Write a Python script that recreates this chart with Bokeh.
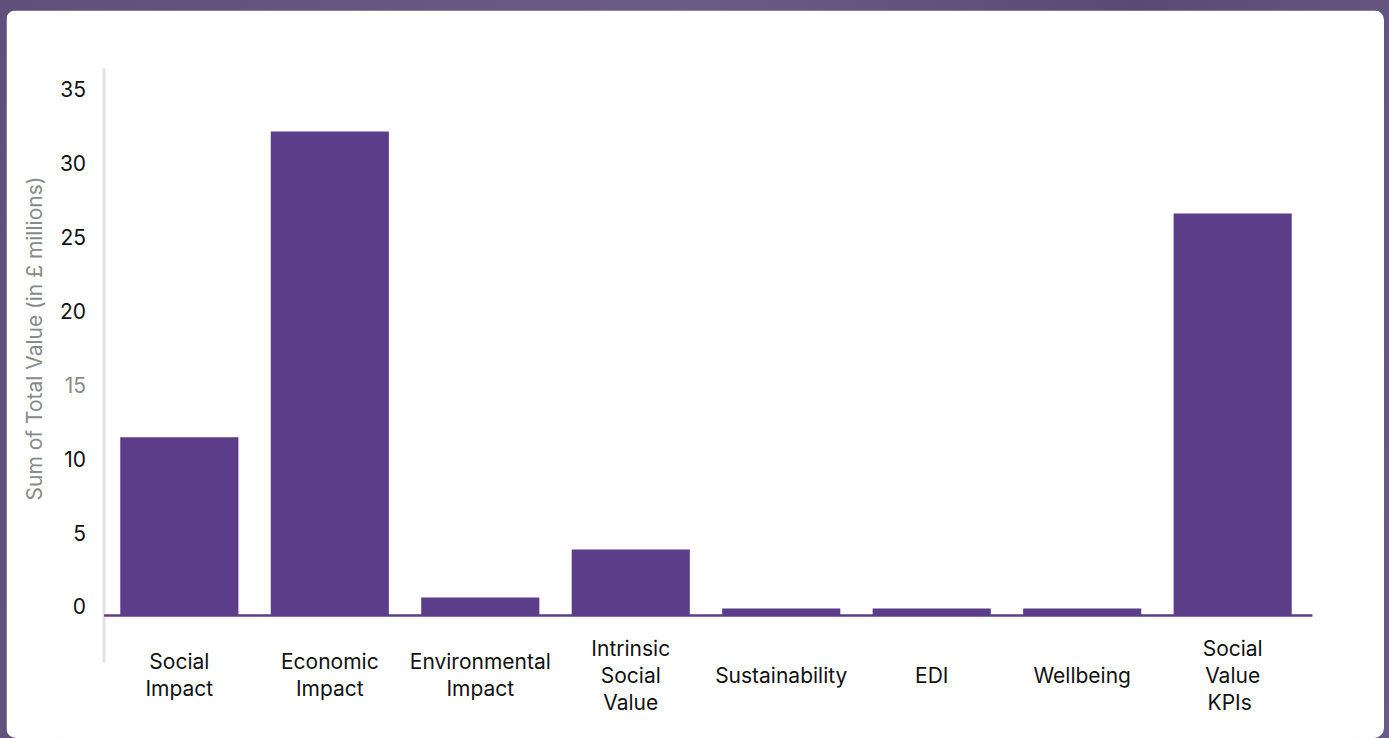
from bokeh.plotting import figure
from bokeh.models import ColumnDataSource, Title, FactorRange
from bokeh.layouts import column
from bokeh.core.properties import value
from bokeh.embed import file_html
from bokeh.resources import INLINE

categories = ["Social Impact", "Economic Impact", "Environmental Impact",
              "Intrinsic Social Value", "Sustainability", "EDI", "Wellbeing",
              "Social Value KPIs"]
category_labels = ["Social\nImpact", "Economic\nImpact", "Environmental\nImpact",
                   "Intrinsic\nSocial\nValue", "Sustainability", "EDI", "Wellbeing",
                   "Social\nValue\n KPIs"]
values = [12.05, 32.7, 1.22, 4.46, 0.47, 0.47, 0.47, 27.16]
y_ticks = [0, 5, 10, 15, 20, 25, 30, 35]
y_tick_labels = ["0", "5", "10", "15", "20", "25", "30", "35"]
y_tick_colors = ["#111111", "#111111", "#111111", "#8a8a8a",
                 "#111111", "#111111", "#111111", "#111111"]
y_title = "Sum of Total Value  (in £ millions)"

BAR = "#5C3D89"
Y_MIN, Y_MAX = -8.311, 36.96
AXIS_BOTTOM = -3.18

x_range = FactorRange(factors=categories, range_padding=0.303,
                      range_padding_units="absolute")
p = figure(x_range=x_range, y_range=(Y_MIN, Y_MAX), width=1378, height=728,
           output_backend="svg", toolbar_location=None, title=None,
           min_border_left=52, min_border_right=31, min_border_top=58,
           min_border_bottom=0, border_fill_color="white",
           background_fill_color="white", outline_line_color="white")
p.margin = (10, 5, 0, 6)
p.styles = {"border-radius": "10px", "overflow": "hidden"}
p.xaxis.visible = False
p.yaxis.visible = False
p.xgrid.visible = False
p.ygrid.visible = False

# vertical axis line at the left edge of the first category
p.segment(x0=[0], y0=[AXIS_BOTTOM], x1=[0], y1=[Y_MAX],
          line_color="#e2e2e2", line_width=3)

src = ColumnDataSource(dict(cat=categories, val=values, lab=category_labels))
p.vbar(x="cat", top="val", bottom=0, width=0.785, source=src,
       fill_color=BAR, line_color=None)

# baseline
p.segment(x0=[0], y0=[0], x1=[len(categories) + 0.03], y1=[0],
          line_color=BAR, line_width=2.5)

tick_src = ColumnDataSource(dict(y=y_ticks, text=y_tick_labels, color=y_tick_colors))
p.text(x=0, y="y", text="text", source=tick_src, x_offset=-18, y_offset=-9,
       text_align="right", text_baseline="middle", text_color="color",
       text_font=value("Inter"), text_font_size="21px")

p.text(x="cat", y=-4.05, text="lab", source=src,
       text_align="center", text_baseline="middle",
       text_line_height=1.08, text_color="#111111",
       text_font=value("Inter"), text_font_size="21px")

p.add_layout(Title(text=y_title, align="left", offset=238, standoff=23,
                   text_font="Inter", text_font_size="21px",
                   text_font_style="normal", text_color="#8a8a8a"), "left")

root = column(p, styles={"background": "linear-gradient(100deg, #5f4f7a 0%, #6b5c86 45%, #5a4a73 75%, #6a5b85 100%)"})
open("out.html", "w").write(file_html(root, INLINE))
